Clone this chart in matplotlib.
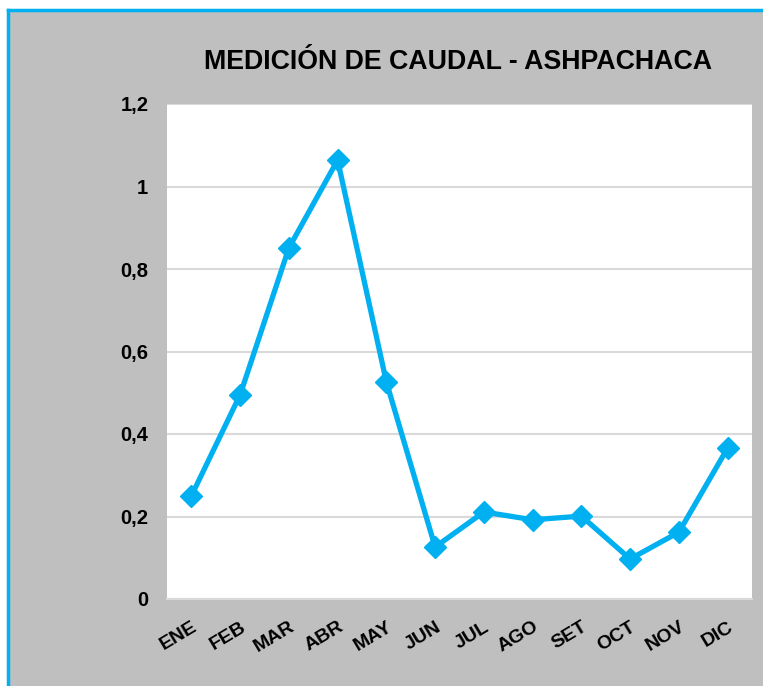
import matplotlib
matplotlib.use('Agg')
from matplotlib import pyplot
from matplotlib.patches import Rectangle
from matplotlib.lines import Line2D

pyplot.rcParams['font.family'] = ['Liberation Sans', 'DejaVu Sans']

months = ['ENE', 'FEB', 'MAR', 'ABR', 'MAY', 'JUN', 'JUL', 'AGO', 'SET', 'OCT', 'NOV', 'DIC']
caudal = [0.25, 0.495, 0.851, 1.064, 0.526, 0.126, 0.211, 0.192, 0.201, 0.097, 0.162, 0.366]
yticks = [0, 0.2, 0.4, 0.6, 0.8, 1.0, 1.2]
ylabels = ['0', '0,2', '0,4', '0,6', '0,8', '1', '1,2']

blue = '#00B0F0'
W, H = 763, 686

fig = pyplot.figure(figsize=(W/100, H/100), dpi=100)
fig.patch.set_facecolor('white')

# grey panel with blue left/top border
fig.patches.append(Rectangle((8/W, 0), 1, 1 - 10/H, transform=fig.transFigure,
                             facecolor='#BFBFBF', edgecolor='none', zorder=-10))
fig.lines.append(Line2D([8/W, 8/W], [0, 1 - 10/H], transform=fig.transFigure, color=blue, lw=2.5, zorder=-5))
fig.lines.append(Line2D([8/W, 1], [1 - 10/H, 1 - 10/H], transform=fig.transFigure, color=blue, lw=2.5, zorder=-5))

ax = fig.add_axes([167/W, 87/H, 585/W, 495/H])
ax.set_facecolor('white')
x = list(range(len(months)))
ax.plot(x, caudal, color=blue, lw=3.8, marker='D', markersize=11, zorder=3)

ax.set_xlim(-0.5, 11.5)
ax.set_ylim(0, 1.2)
ax.set_yticks(yticks)
ax.set_yticklabels(ylabels, fontsize=14.5, fontweight='bold')
ax.set_xticks(x)
ax.set_xticklabels(months, fontsize=14, fontweight='bold', rotation=31, ha='right', rotation_mode='anchor')
ax.tick_params(length=0)
ax.tick_params(axis='y', pad=13.5)
ax.tick_params(axis='x', pad=14)
ax.grid(True, axis='y', color='#D9D9D9', lw=1.5)
ax.set_axisbelow(True)
for s in ['left', 'right', 'top']:
    ax.spines[s].set_visible(False)
ax.spines['bottom'].set_color('#D9D9D9')
ax.spines['bottom'].set_linewidth(1.5)

fig.text(458/W, 1 - 62/H, 'MEDICIÓN DE CAUDAL - ASHPACHACA', ha='center', va='center',
         fontsize=19.3, fontweight='bold')

pyplot.savefig('out.png', dpi=100)
